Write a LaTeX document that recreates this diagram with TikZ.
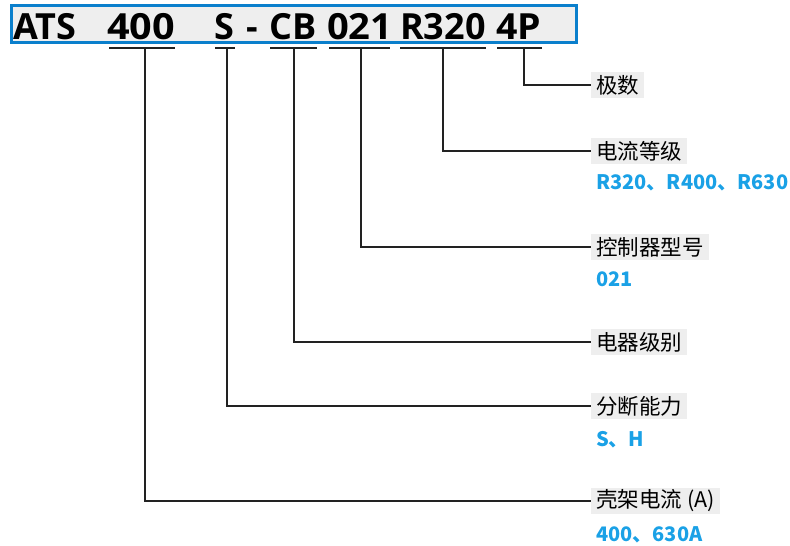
\documentclass[tikz,border=0pt]{standalone}
\usepackage{fontspec}
\setmainfont{Open Sans}
\newfontfamily\titlef{Open Sans}
\newfontfamily\cjk{Noto Sans CJK SC}
\definecolor{boxblue}{HTML}{0A7FCC}
\definecolor{vblue}{HTML}{1AA1E6}
\definecolor{lgray}{HTML}{EEEEEE}
\definecolor{lnc}{HTML}{222222}
\begin{document}
\begin{tikzpicture}[x=1pt,y=-1pt,
  lbl/.style={anchor=west,fill=lgray,inner xsep=5pt,inner ysep=0pt,minimum height=26pt,font=\cjk\fontsize{21.5}{23}\selectfont},
  val/.style={anchor=west,inner sep=0pt,text=vblue,font=\cjk\bfseries\fontsize{20}{22}\selectfont},
  ln/.style={line width=1.2pt,draw=lnc},
  tok/.style={anchor=base west,inner sep=0pt,font=\titlef\bfseries\fontsize{36}{36}\selectfont}]
\useasboundingbox (0,0) rectangle (790,546);
% code box
\node[draw=boxblue,line width=3pt,fill=lgray,minimum width=565.5pt,minimum height=37.5pt,inner sep=0pt] (code) at (293.8,24) {};
\node[tok] (tATS) at (13,39) {ATS};
\node[tok] (t400) at (107,39) {\scalebox{1.1}[1]{400}};
\node[tok] (tS) at (214,39) {S};
\node[tok] (tdash) at (246,39) {-};
\node[tok] (tCB) at (269,39) {CB};
\node[tok] (t021) at (327,39) {\scalebox{1.06}[1]{021}};
\node[tok] (tR) at (400,39) {R320};
\node[tok] (t4P) at (496,39) {\scalebox{1.04}[1]{4P}};
% underline coordinates
\coordinate (a1) at (109,48); \coordinate (b1) at (175,48); \coordinate (s1) at (145,48);
\coordinate (a2) at (215,48); \coordinate (b2) at (235,48); \coordinate (s2) at (227,48);
\coordinate (a3) at (270,48); \coordinate (b3) at (317,48); \coordinate (s3) at (294,48);
\coordinate (a4) at (329,48); \coordinate (b4) at (390,48); \coordinate (s4) at (361,48);
\coordinate (a5) at (400,48); \coordinate (b5) at (486,48); \coordinate (s5) at (443,48);
\coordinate (a6) at (497,48); \coordinate (b6) at (542,48); \coordinate (s6) at (524,48);
\foreach \i in {1,...,6} {\draw[ln] (a\i) -- (b\i);}
% labels
\node[lbl] (l6) at (591,85) {极数};
\node[lbl] (l5) at (591,151) {电流等级};
\node[val] (v5) at (596,183) {R320、R400、R630};
\node[lbl] (l4) at (591,247) {控制器型号};
\node[val] (v4) at (596,279) {021};
\node[lbl] (l3) at (591,342) {电器级别};
\node[lbl] (l2) at (591,406) {分断能力};
\node[val] (v2) at (596,440) {S、H};
\node[lbl] (l1) at (591,501) {壳架电流 (A)};
\node[val] (v1) at (596,535) {400、630A};
% connectors
\foreach \i in {1,...,6} {\draw[ln] (s\i) |- (l\i.west);}
\end{tikzpicture}
\end{document}
